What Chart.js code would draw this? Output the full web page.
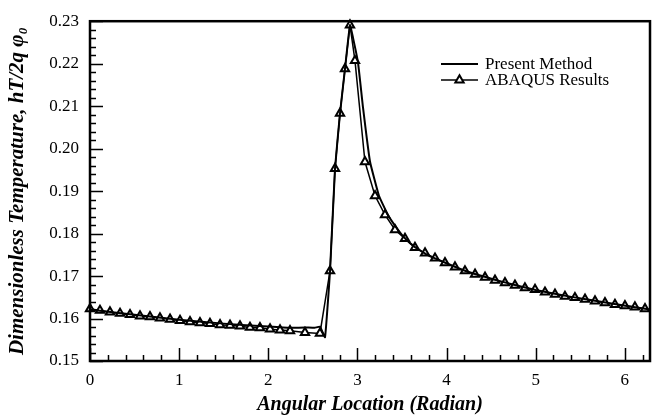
<!DOCTYPE html>
<html>
<head>
<meta charset="utf-8">
<script src="https://cdn.jsdelivr.net/npm/chart.js@4.4.1/dist/chart.umd.min.js"></script>
<style>
  body { margin: 0; background: #fff; }
  canvas { display: block; }
</style>
</head>
<body>
<canvas id="tempChart" width="659" height="415"></canvas>
<script>
// --- data ---
const xTickLabels = [0, 1, 2, 3, 4, 5, 6];
const yTickLabels = [0.15, 0.16, 0.17, 0.18, 0.19, 0.20, 0.21, 0.22, 0.23];

const presentX = [0, 0.5, 1.0, 1.5, 2.0, 2.244, 2.41, 2.52, 2.58, 2.637, 2.693, 2.749, 2.805, 2.861, 2.917,
    2.950, 3.007, 3.063, 3.142, 3.242, 3.343, 3.456, 3.534, 3.646, 3.8, 4.2, 4.6, 5.0, 5.4, 5.8, 6.283];
const presentY = [0.1621, 0.1609, 0.1597, 0.1588, 0.1581, 0.1578, 0.1579, 0.1578, 0.1581, 0.1556, 0.1712, 0.1953, 0.2083, 0.2188, 0.2291,
    0.2262, 0.2203, 0.2097, 0.1969, 0.1889, 0.1844, 0.1809, 0.1789, 0.1768, 0.1748, 0.1713, 0.1688, 0.1667, 0.1651, 0.1637, 0.1621];

const abaqusX = [0, 0.112, 0.224, 0.337, 0.449, 0.561, 0.673, 0.785, 0.898, 1.010, 1.122, 1.234, 1.346, 1.459, 1.571,
    1.683, 1.795, 1.907, 2.020, 2.132, 2.244, 2.412, 2.580, 2.693, 2.749, 2.805, 2.861, 2.917, 2.973, 3.085,
    3.198, 3.310, 3.422, 3.534, 3.646, 3.759, 3.871, 3.983, 4.095, 4.207, 4.320, 4.432, 4.544, 4.656, 4.768,
    4.880, 4.993, 5.105, 5.217, 5.329, 5.441, 5.554, 5.666, 5.778, 5.890, 6.002, 6.114, 6.227];
const abaqusY = [0.1623, 0.1619, 0.1615, 0.1612, 0.1609, 0.1606, 0.1604, 0.1601, 0.1598, 0.1595, 0.1592, 0.1590, 0.1588, 0.1585, 0.1584,
    0.1582, 0.1579, 0.1578, 0.1575, 0.1573, 0.1571, 0.1567, 0.1565, 0.1712, 0.1953, 0.2083, 0.2188, 0.2291, 0.2207, 0.1969,
    0.1889, 0.1844, 0.1809, 0.1788, 0.1767, 0.1754, 0.1742, 0.1731, 0.1721, 0.1712, 0.1704, 0.1697, 0.1690, 0.1684, 0.1678,
    0.1672, 0.1668, 0.1662, 0.1657, 0.1652, 0.1649, 0.1645, 0.1641, 0.1637, 0.1633, 0.1630, 0.1627, 0.1623];

const seriesNames = ['Present Method', 'ABAQUS Results'];

const toPoints = (xs, ys) => xs.map((x, i) => ({ x: x, y: ys[i] }));

const serif = "'Liberation Serif', 'Times New Roman', serif";

// frame, inward ticks (major + minor) and the legend
const framePlugin = {
    id: 'framePlugin',
    afterDraw(chart) {
        const { ctx, chartArea: a, scales: { x, y } } = chart;
        ctx.save();
        ctx.strokeStyle = '#000';
        ctx.lineWidth = 2.5;
        ctx.strokeRect(a.left, a.top, a.right - a.left, a.bottom - a.top);

        ctx.lineWidth = 1.5;
        ctx.beginPath();
        for (let i = 0; i <= 31; i++) {
            const px = Math.round(x.getPixelForValue(i * 0.2)) + 0.5;
            const len = i % 5 === 0 ? 13 : 6;
            ctx.moveTo(px, a.bottom);
            ctx.lineTo(px, a.bottom - len);
        }
        for (let i = 0; i <= 40; i++) {
            const py = Math.round(y.getPixelForValue(0.15 + i * 0.002)) + 0.5;
            const len = i % 5 === 0 ? 13 : 6;
            ctx.moveTo(a.left, py);
            ctx.lineTo(a.left + len, py);
        }
        ctx.stroke();

        // legend
        ctx.font = '17px ' + serif;
        ctx.textBaseline = 'middle';
        const rows = [64, 80];
        chart.data.datasets.forEach((ds, i) => {
            const ly = rows[i];
            ctx.strokeStyle = '#000';
            ctx.lineWidth = ds.borderWidth;
            ctx.beginPath();
            ctx.moveTo(441, ly);
            ctx.lineTo(478, ly);
            ctx.stroke();
            if (ds.pointRadius > 0) {
                ctx.fillStyle = '#fff';
                ctx.lineWidth = ds.pointBorderWidth;
                Chart.helpers.drawPoint(ctx, {
                    pointStyle: 'triangle', radius: ds.pointRadius, rotation: 0, borderWidth: ds.pointBorderWidth
                }, 459.5, ly);
            }
            ctx.fillStyle = '#000';
            ctx.fillText(ds.label, 485, ly + 1);
        });
        ctx.restore();
    }
};

const ctx = document.getElementById('tempChart').getContext('2d');
const tempChart = new Chart(ctx, {
    type: 'scatter',
    data: {
        datasets: [{
            label: seriesNames[0],
            data: toPoints(presentX, presentY),
            showLine: true,
            borderColor: '#000',
            borderWidth: 2,
            pointRadius: 0,
            tension: 0.1,
            clip: false
        }, {
            label: seriesNames[1],
            data: toPoints(abaqusX, abaqusY),
            showLine: true,
            borderColor: '#000',
            borderWidth: 1.5,
            pointStyle: 'triangle',
            pointRadius: 4.8,
            pointBackgroundColor: '#fff',
            pointBorderColor: '#000',
            pointBorderWidth: 2,
            clip: false
        }]
    },
    options: {
        responsive: false,
        animation: false,
        layout: { padding: { left: 0, right: 9, top: 11, bottom: 0 } },
        plugins: {
            legend: { display: false },
            tooltip: { enabled: false }
        },
        scales: {
            x: {
                type: 'linear',
                min: 0,
                max: 2 * Math.PI,
                afterBuildTicks: (scale) => { scale.ticks = xTickLabels.map(v => ({ value: v })); },
                afterFit: (scale) => { scale.height = 54; },
                grid: { display: false, drawTicks: false },
                border: { display: false },
                ticks: {
                    color: '#000',
                    padding: 9,
                    font: { family: serif, size: 17 },
                    callback: (v) => String(v)
                },
                title: {
                    display: true,
                    text: 'Angular Location (Radian)',
                    color: '#000',
                    font: { family: serif, size: 20, weight: 'bold', style: 'italic' },
                    padding: { top: 0, bottom: -2 }
                }
            },
            y: {
                type: 'linear',
                min: 0.15,
                max: 0.23,
                afterBuildTicks: (scale) => { scale.ticks = yTickLabels.map(v => ({ value: v })); },
                afterFit: (scale) => { scale.width = 90; },
                grid: { display: false, drawTicks: false },
                border: { display: false },
                ticks: {
                    color: '#000',
                    padding: 11,
                    font: { family: serif, size: 17 },
                    callback: (v) => v.toFixed(2)
                },
                title: {
                    display: true,
                    text: 'Dimensionless Temperature, hT/2q φ₀',
                    color: '#000',
                    font: { family: serif, size: 21, weight: 'bold', style: 'italic' },
                    padding: { top: 5, bottom: 0 }
                }
            }
        }
    },
    plugins: [framePlugin]
});
</script>
</body>
</html>
